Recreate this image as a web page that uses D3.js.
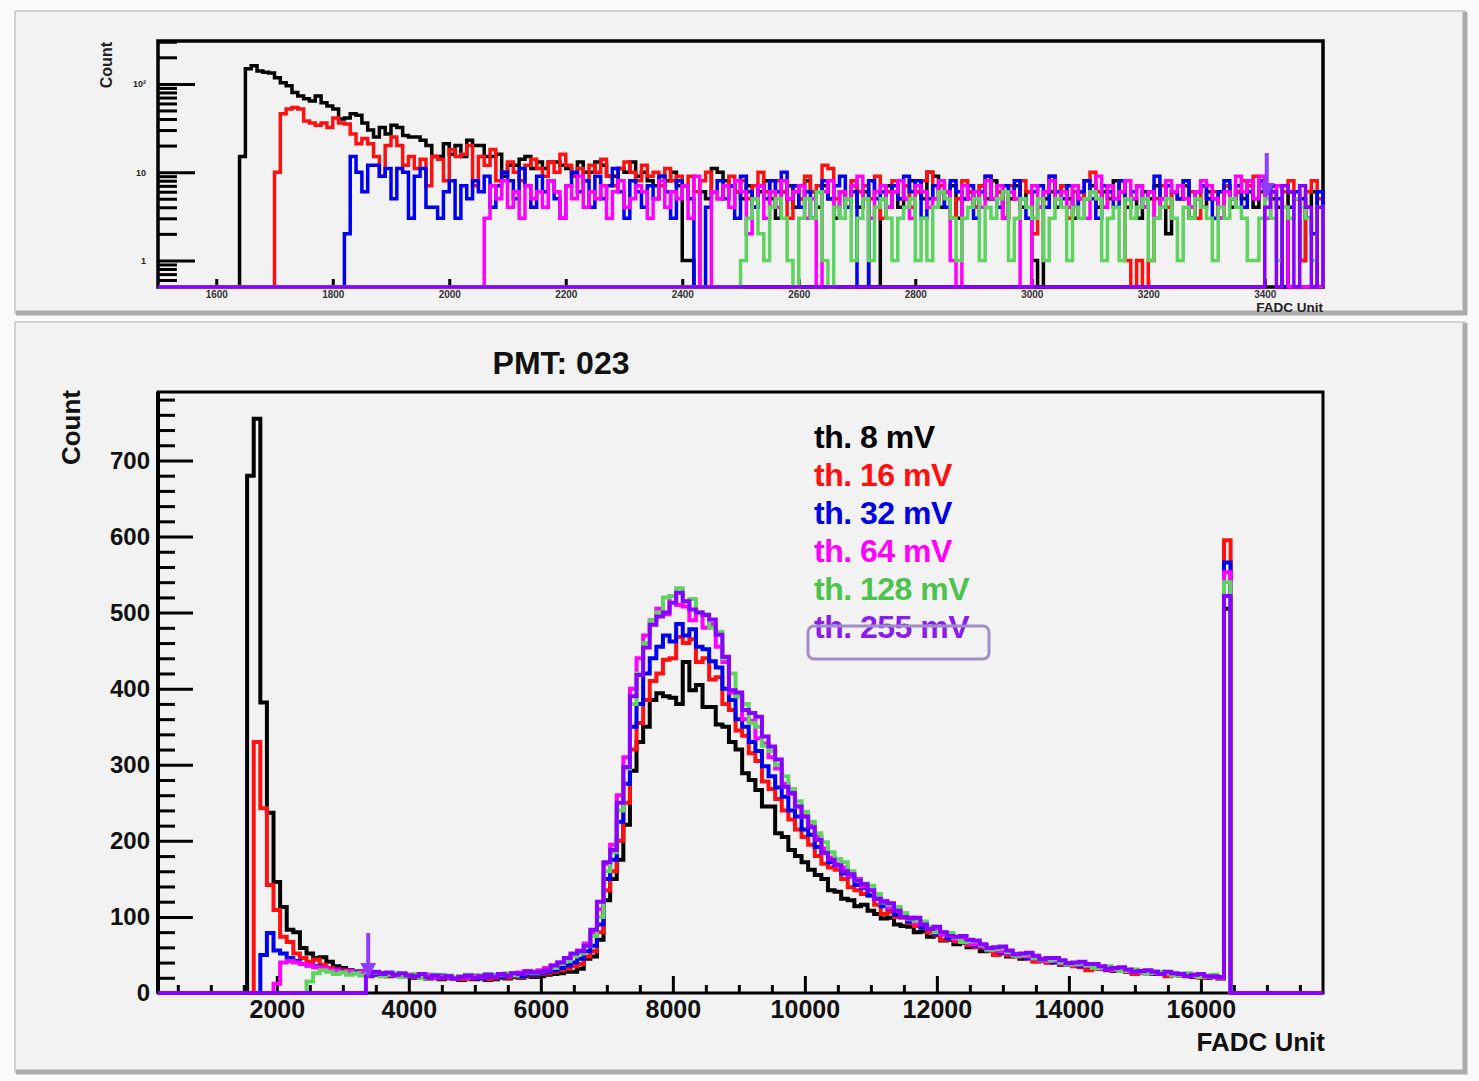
<!DOCTYPE html>
<html>
<head>
<meta charset="utf-8">
<script src="https://cdn.jsdelivr.net/npm/d3@7"></script>
<style>
  html, body { margin: 0; padding: 0; background: #fafafa; }
  svg { display: block; font-family: "Liberation Sans", Arial, Helvetica, sans-serif; font-weight: bold; }
</style>
</head>
<body>
<svg id="chart" width="1479" height="1081"></svg>
<script>
// ---- Series (discriminator thresholds) ----
const seriesNames  = ["th. 8 mV", "th. 16 mV", "th. 32 mV", "th. 64 mV", "th. 128 mV", "th. 255 mV"];
const lineColors   = ["#000000", "#ff1010", "#0000f0", "#ff00ff", "#5fd35f", "#8800ff"];
const legendColors = ["#000000", "#ff1010", "#0000e6", "#ff00ff", "#4cc34c", "#8a1cf0"];

// ---- Main histogram: FADC units, 100-unit bins from 1550 (last bin = overflow pile-up) ----
const mainBinStart = 1550;
const mainBinWidth = 100;
const main8mV = [
  680,755,382,237,146,113,83,80,59,52,46,47,41,35,
  33,30,28,26,27,24,25,22,24,21,23,20,22,19,21,18,20,19,17,19,18,20,17,18,20,19,21,20,22,21,
  22,24,25,26,28,28,32,45,48,70,122,150,175,221,292,330,350,385,
  394,390,388,380,435,398,405,376,376,353,350,330,320,289,280,267,245,
  245,210,205,188,180,172,162,155,150,135,133,124,122,114,116,108,104,98,99,90,
  88,87,80,81,74,76,69,70,64,66,60,62,55,56,51,53,48,50,45,47,
  43,44,40,42,37,39,36,37,34,33,32,33,29,31,28,29,27,28,25,26,
  24,25,23,23,21,22,20,21,19,
  505];
const main16mV = [
  0,330,243,142,109,74,67,52,46,41,44,37,33,32,
  30,28,27,29,25,26,24,23,25,22,24,21,23,20,22,19,21,20,18,20,19,21,18,20,22,20,23,21,24,23,
  25,26,28,30,32,35,38,48,55,80,135,160,200,250,320,355,385,410,
  420,438,440,468,460,465,435,440,412,415,380,372,345,338,315,305,278,
  268,255,240,228,215,205,195,180,170,165,162,150,139,135,130,128,116,104,106,100,
  99,92,88,88,80,77,70,71,68,69,63,60,62,56,50,52,50,48,51,45,
  41,42,40,42,38,37,35,34,30,32,33,30,31,29,28,25,27,26,28,25,
  22,24,25,23,22,20,21,22,20,
  595];
const main32mV = [
  0,0,50,79,56,52,46,42,38,36,35,32,30,31,
  29,27,28,26,27,25,26,24,23,25,22,24,21,22,20,23,21,19,21,20,22,19,21,23,21,22,24,22,25,24,
  26,28,30,33,36,40,45,55,62,90,150,175,225,275,350,380,420,440,
  455,470,462,485,470,478,455,452,436,428,400,385,360,350,330,318,298,
  285,270,258,240,232,215,208,192,185,172,168,157,153,142,138,128,124,114,111,103,
  101,94,92,86,84,78,77,72,71,67,66,62,61,57,57,53,52,49,49,46,
  46,43,42,40,39,37,37,35,35,33,33,31,31,29,29,28,28,26,27,25,
  25,24,24,23,23,22,22,21,21,
  566];
const main64mV = [
  0,0,0,0,12,40,42,40,38,36,34,33,31,30,
  28,29,26,28,25,27,24,26,23,25,22,23,21,24,20,22,21,19,22,20,23,21,24,22,25,23,26,27,29,28,
  30,33,36,40,45,50,56,65,80,110,170,195,260,310,400,440,470,490,
  505,498,522,510,508,490,500,480,485,455,435,395,390,360,358,335,328,
  310,295,275,262,245,232,220,205,190,178,170,165,154,150,140,135,124,121,112,109,
  101,99,92,90,84,82,77,76,71,70,65,64,61,59,56,55,52,51,48,48,
  45,45,42,42,39,39,37,37,35,34,32,32,30,30,29,28,27,27,26,25,
  25,24,24,23,22,22,21,21,20,
  553];
const main128mV = [
  0,0,0,0,0,0,0,0,0,15,26,30,28,25,
  27,24,26,23,25,27,22,24,26,21,23,25,20,22,24,21,23,20,22,24,21,23,25,22,24,26,23,25,27,26,
  28,30,33,38,42,48,52,62,75,100,160,185,240,295,380,420,460,490,
  500,520,522,532,515,518,500,498,480,475,440,420,390,380,355,350,325,
  318,300,285,268,252,238,225,210,198,185,176,172,160,148,144,141,130,119,116,113,
  105,97,95,94,87,80,80,79,73,67,68,68,63,57,58,59,54,49,50,51,
  46,43,43,44,40,37,38,39,36,33,34,35,32,29,30,31,28,26,27,28,
  26,23,24,26,23,21,22,24,21,
  540];
const main255mV = [
  0,0,0,0,0,0,0,0,0,0,0,0,0,0,
  0,0,0,0,22,28,25,27,24,26,23,22,25,21,23,20,22,19,21,23,20,22,24,21,25,23,26,25,28,27,
  28,30,36,40,46,52,55,62,83,120,172,188,250,297,390,418,454,484,
  495,500,513,526,515,504,500,497,491,471,442,398,395,372,368,363,337,
  324,307,271,263,245,232,218,201,184,175,168,160,156,148,143,135,124,120,118,108,
  100,98,99,90,84,87,80,75,74,75,70,69,64,59,60,61,56,51,52,53,
  49,44,46,46,43,39,40,41,38,38,35,32,33,34,31,28,29,30,28,25,
  28,26,25,22,24,25,22,22,21,
  522];
const mainSeries = [main8mV, main16mV, main32mV, main64mV, main128mV, main255mV];

// ---- Zoomed low-energy histogram: 10-unit bins, each series from its own first bin ----
const zoomBinWidth = 10;
const zoomStart = [1640, 1700, 1820, 2060, 2500, 3400];
const zoom8mV = [
  15,148,160,140,135,133,117,103,95,80,73,68,64,73,61,56,52,40,41,46,
  44,36,30,25,32,27,34,32,26,25,25,23,20,15,15,21,16,20,15,
  23,20,20,15,15,16,9,12,12,14,15,11,13,11,13,13,12,11,9,13,
  10,10,13,12,9,9,11,10,13,9,10,8,7,9,8,10,7,
  1,1,0,6,5,11,10,8,7,6,
  5,7,4,6,8,5,3,6,7,4,5,8,6,4,7,5,3,6,5,7,
  4,6,0,0,5,7,6,4,5,8,6,5,10,9,4,6,7,3,5,6,
  4,7,5,8,6,3,5,7,4,6,1,0,5,6,4,7,5,3,6,5,
  7,4,6,5,8,6,4,5,3,6,5,7,4,2,6,5,7,3,5,4,
  6,5,3,7,4,6,5,8,4,6,7,5,4,0,6,5,1,4,6,0];
const zoom16mV = [
  10,46,52,54,52,38,36,34,36,32,41,36,35,27,21,24,21,15,9,20,
  25,20,12,15,11,14,7,15,14,8,18,15,16,20,7,
  15,12,18,8,10,13,10,8,12,14,11,9,13,10,16,12,9,11,8,12,
  10,14,9,7,11,13,10,8,12,9,10,7,11,8,9,
  7,9,6,8,10,6,5,7,9,6,8,5,7,10,6,4,8,6,3,7,
  5,9,6,7,12,11,5,6,4,8,6,7,5,9,3,6,8,5,7,4,
  6,8,10,5,7,6,3,5,8,6,4,7,9,5,6,3,7,5,8,6,
  2,4,6,9,5,7,3,6,5,8,10,6,4,7,5,8,1,0,1,0,
  1,5,7,4,6,5,8,6,3,7,5,6,4,7,5,6,8,7,9,8,
  6,7,7,6,8,5,1,6,8,5];
const zoom32mV = [
  2,15,10,6,12,12,9,11,5,11,10,3,9,11,4,4,3,6,8,3,7,5,8,
  6,9,4,7,10,8,5,11,7,4,9,6,8,5,3,7,10,6,8,4,
  9,5,7,11,6,3,8,6,4,7,5,9,6,3,8,7,5,0,0,4,
  6,8,5,7,3,9,6,4,7,5,8,6,10,5,7,4,6,3,6,8,
  5,7,9,4,6,0,0,8,5,6,4,7,5,9,6,8,3,5,7,6,
  4,8,6,5,7,3,6,9,5,4,7,6,8,5,3,6,7,4,9,6,
  5,7,4,6,8,5,3,7,6,4,8,5,6,7,4,6,9,5,7,6,
  5,8,4,6,7,5,3,6,8,5,7,4,6,5,8,6,7,5,0,4,
  6,5,3,2,6];
const zoom64mV = [
  3,7,5,8,4,6,3,7,5,6,4,8,6,3,7,5,9,4,6,5,
  7,3,6,8,4,5,7,6,3,5,8,4,6,5,7,3,9,0,0,6,
  5,7,4,8,6,2,5,7,3,6,4,8,5,6,7,3,5,0,6,8,
  4,6,5,7,9,5,3,6,7,4,6,8,5,3,7,6,4,5,8,6,
  1,0,7,5,6,4,8,5,7,3,6,5,0,0,7,4,6,8,5,6,
  4,7,5,3,6,9,4,7,5,6,8,5,7,4,6,3,5,8,6,7,
  5,4,6,8,7,5,3,6,5,9,6,8,5,9,3,6,7,4];
const zoom128mV = [
  1,3,5,2,1,4,5,3,1,0,3,5,3,6,1,0,4,3,5,1,
  3,5,1,4,5,3,1,3,4,5,1,3,1,4,6,5,3,1,3,4,
  5,1,4,3,5,6,1,3,5,4,3,5,1,3,5,4,1,4,3,5,
  6,5,1,3,4,1,5,3,4,5,1,3,4,5,3,1,4,3,5,4,
  3,1,4,3,5,4,3,1,1,3,5,3,1,4,3,5,4,3,1,4];
const zoom255mV = [4,6,0,7,6,0,7,4,0,4];
const zoomSeries = [zoom8mV, zoom16mV, zoom32mV, zoom64mV, zoom128mV, zoom255mV];

// ---- Axis ticks ----
const mainXTicks = [2000, 4000, 6000, 8000, 10000, 12000, 14000, 16000];
const mainXMinor = d3.range(500, 17850, 500).filter(v => v % 2000 !== 0);
const mainYTicks = [0, 100, 200, 300, 400, 500, 600, 700];
const mainYMinor = d3.range(20, 790, 20).filter(v => v % 100 !== 0);
const zoomXTicks = [1600, 1800, 2000, 2200, 2400, 2600, 2800, 3000, 3200, 3400];
const zoomYTicks = [1, 10, 100];
const zoomYLabels = ["1", "10", "10\u00b2"];
const zoomYMinor = [0.6, 0.7, 0.8, 0.9, 2, 3, 4, 5, 6, 7, 8, 9, 20, 30, 40, 50, 60, 70, 80, 90, 200, 300];

// ---- Layout ----
const svg = d3.select("#chart");
const topBox  = { x0: 158, x1: 1323, y0: 41,  y1: 287 };
const mainBox = { x0: 158, x1: 1323, y0: 392, y1: 993 };

function panel(x, y, w, h) {
  svg.append("rect").attr("x", x).attr("y", y).attr("width", w).attr("height", h)
    .attr("fill", "#f2f2f2").attr("stroke", "#d2d2d2").attr("stroke-width", 2);
  svg.append("path").attr("d", `M${x + w},${y + 1} V${y + h} H${x + 1}`)
    .attr("fill", "none").attr("stroke", "#ababab").attr("stroke-width", 5);
}
panel(15, 11, 1450, 302);
panel(15, 322, 1450, 750);

// ---- Scales ----
const xZoom = d3.scaleLinear().domain([1500, 3500]).range([topBox.x0, topBox.x1]);
const yZoom = d3.scaleLog().domain([0.5, 306]).range([topBox.y1, topBox.y0]).clamp(true);
const xMain = d3.scaleLinear().domain([200, 17850]).range([mainBox.x0, mainBox.x1]);
const yMain = d3.scaleLinear().domain([0, 790]).range([mainBox.y1, mainBox.y0]);

// step outline of a histogram, running along zero outside its bins
function stepPoints(vals, start, width, d0, d1) {
  const pts = [[d0, 0], [start, 0]];
  vals.forEach((v, i) => { pts.push([start + i * width, v]); pts.push([start + (i + 1) * width, v]); });
  const end = start + vals.length * width;
  pts.push([end, 0]);
  if (end < d1) pts.push([d1, 0]);
  return pts;
}

function styleAxis(g, size, color) {
  g.select(".domain").remove();
  g.selectAll(".tick line").attr("stroke", "#000").attr("stroke-width", 3);
  g.selectAll(".tick text").attr("font-size", size).attr("font-weight", "bold")
    .attr("fill", color || "#111").attr("font-family", "'Liberation Sans', Arial, sans-serif");
}

// ================= Top (zoomed, log) panel =================
svg.append("rect").attr("x", topBox.x0).attr("y", topBox.y0)
  .attr("width", topBox.x1 - topBox.x0).attr("height", topBox.y1 - topBox.y0)
  .attr("fill", "none").attr("stroke", "#000").attr("stroke-width", 3.5);

svg.append("g").attr("transform", `translate(${topBox.x0},0)`)
  .call(d3.axisLeft(yZoom).tickValues(zoomYMinor).tickSize(-19).tickFormat(""))
  .call(g => styleAxis(g, 9));
svg.append("g").attr("transform", `translate(${topBox.x0},0)`)
  .call(d3.axisLeft(yZoom).tickValues(zoomYTicks).tickSize(-37).tickPadding(12)
    .tickFormat((d, i) => zoomYLabels[i]))
  .call(g => styleAxis(g, 9, "#222"));
svg.append("g").attr("transform", `translate(0,${topBox.y1})`)
  .call(d3.axisBottom(xZoom).tickValues(zoomXTicks).tickSize(-8).tickPadding(4).tickFormat(d3.format("d")))
  .call(g => styleAxis(g, 10, "#333"));

const zoomLine = d3.line().x(d => xZoom(d[0])).y(d => yZoom(Math.max(d[1], 0.5)));
zoomSeries.forEach((vals, k) => {
  svg.append("path")
    .attr("d", zoomLine(stepPoints(vals, zoomStart[k], zoomBinWidth, 1500, 3500)))
    .attr("fill", "none").attr("stroke", lineColors[k]).attr("stroke-width", 3.5)
    .attr("stroke-linejoin", "miter");
});

svg.append("text").attr("transform", `translate(112,${topBox.y0 + 1}) rotate(-90)`)
  .attr("text-anchor", "end").attr("font-size", 16).attr("fill", "#222").text("Count");
svg.append("text").attr("x", topBox.x1).attr("y", 312).attr("text-anchor", "end")
  .attr("font-size", 13.5).attr("fill", "#222").text("FADC Unit");

// ================= Main (linear) panel =================
svg.append("rect").attr("x", mainBox.x0).attr("y", mainBox.y0)
  .attr("width", mainBox.x1 - mainBox.x0).attr("height", mainBox.y1 - mainBox.y0)
  .attr("fill", "none").attr("stroke", "#000").attr("stroke-width", 3);
svg.append("line").attr("x1", mainBox.x0).attr("x2", mainBox.x0)
  .attr("y1", mainBox.y0).attr("y2", mainBox.y1).attr("stroke", "#000").attr("stroke-width", 4);

svg.append("g").attr("transform", `translate(${mainBox.x0},0)`)
  .call(d3.axisLeft(yMain).tickValues(mainYMinor).tickSize(-17).tickFormat(""))
  .call(g => styleAxis(g, 24));
svg.append("g").attr("transform", `translate(${mainBox.x0},0)`)
  .call(d3.axisLeft(yMain).tickValues(mainYTicks).tickSize(-35).tickPadding(8).tickFormat(d3.format("d")))
  .call(g => styleAxis(g, 24));
svg.append("g").attr("transform", `translate(0,${mainBox.y1})`)
  .call(d3.axisBottom(xMain).tickValues(mainXMinor).tickSize(-8).tickFormat(""))
  .call(g => styleAxis(g, 24));
svg.append("g").attr("transform", `translate(0,${mainBox.y1})`)
  .call(d3.axisBottom(xMain).tickValues(mainXTicks).tickSize(-17).tickPadding(7).tickFormat(d3.format("d")))
  .call(g => styleAxis(g, 25));

const mainLine = d3.line().x(d => xMain(d[0])).y(d => yMain(d[1]));
mainSeries.forEach((vals, k) => {
  svg.append("path")
    .attr("d", mainLine(stepPoints(vals, mainBinStart, mainBinWidth, 200, 17850)))
    .attr("fill", "none").attr("stroke", lineColors[k]).attr("stroke-width", 4)
    .attr("stroke-linejoin", "miter");
});

svg.append("text").attr("x", 561).attr("y", 374).attr("text-anchor", "middle")
  .attr("font-size", 32).attr("fill", "#111").text("PMT: 023");
svg.append("text").attr("transform", `translate(80,${mainBox.y0 - 2}) rotate(-90)`)
  .attr("text-anchor", "end").attr("font-size", 26).attr("fill", "#111").text("Count");
svg.append("text").attr("x", mainBox.x1 + 2).attr("y", 1051).attr("text-anchor", "end")
  .attr("font-size", 26).attr("fill", "#111").text("FADC Unit");

// ---- Legend ----
const legend = svg.append("g");
seriesNames.forEach((name, k) => {
  legend.append("text").attr("x", 814).attr("y", 448 + k * 38)
    .attr("font-size", 32).attr("letter-spacing", -0.5).attr("fill", legendColors[k]).text(name);
});
legend.append("rect").attr("x", 808).attr("y", 626).attr("width", 181).attr("height", 33)
  .attr("rx", 6).attr("fill", "none").attr("stroke", "#a08cc6").attr("stroke-width", 3);

// ---- Threshold markers (255 mV onset) ----
function arrow(xv, yTop, yTip) {
  svg.append("line").attr("x1", xv).attr("x2", xv).attr("y1", yTop).attr("y2", yTip - 12)
    .attr("stroke", "#8f3cff").attr("stroke-width", 4);
  svg.append("path").attr("d", `M${xv - 8},${yTip - 15} L${xv + 8},${yTip - 15} L${xv},${yTip} Z`)
    .attr("fill", "#8f3cff");
}
arrow(xZoom(3400) + 2, 153, 198);
arrow(xMain(3400) - 1, 933, 978);
</script>
</body>
</html>
